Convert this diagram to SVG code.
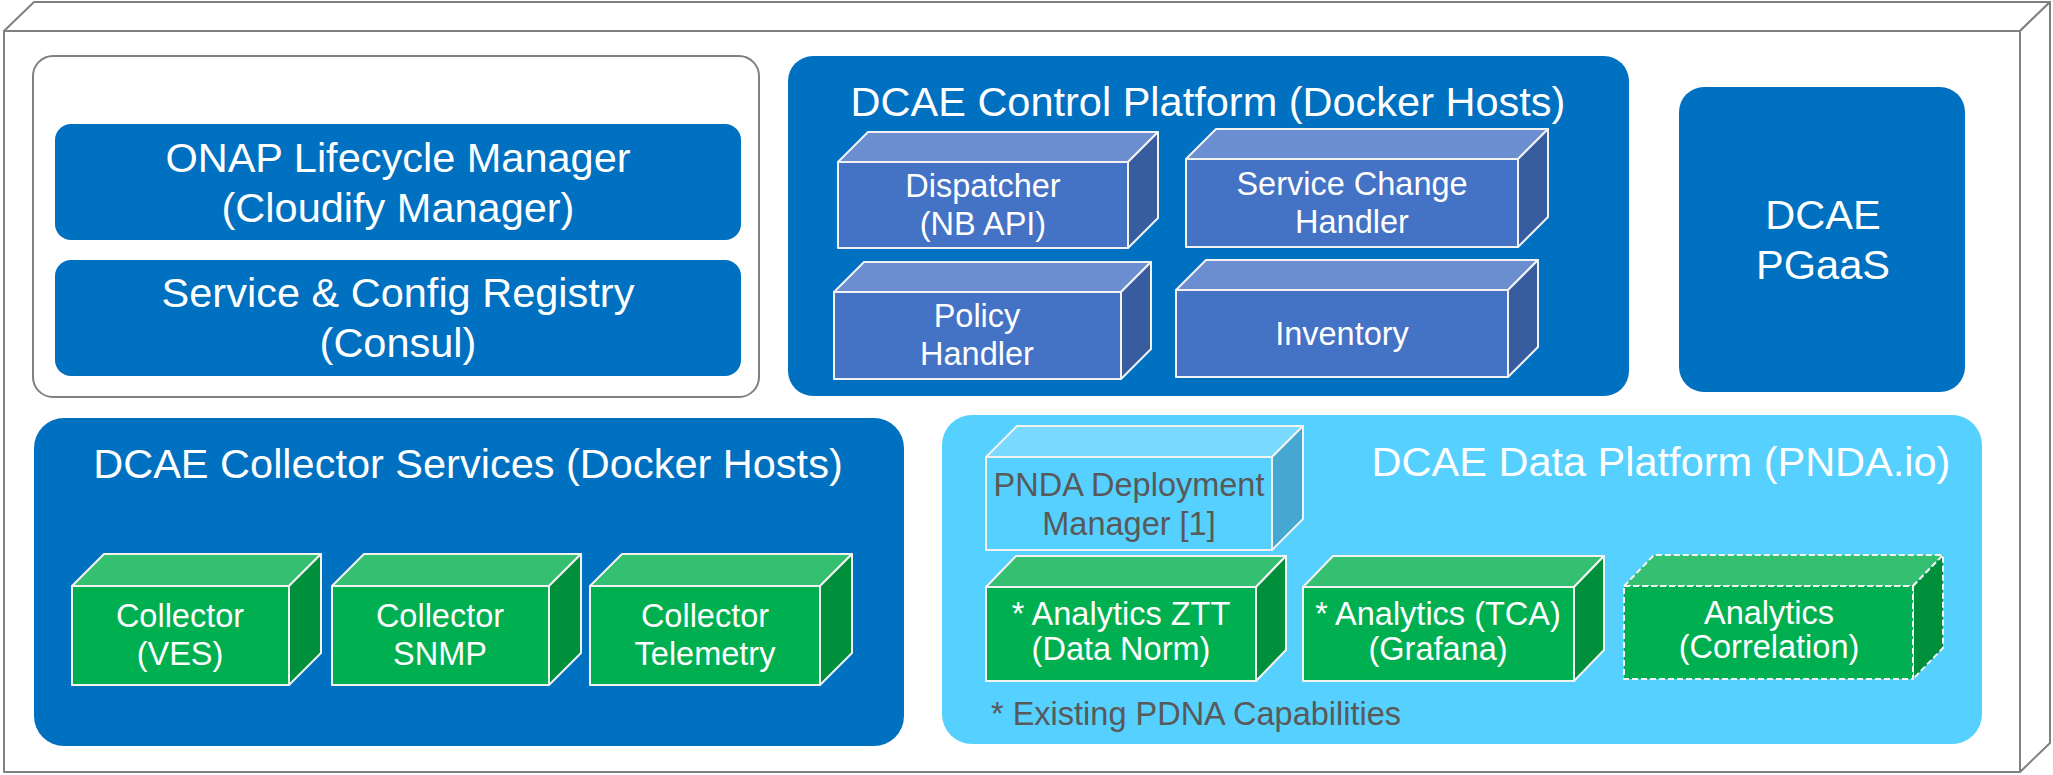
<svg xmlns="http://www.w3.org/2000/svg" width="2053" height="775" viewBox="0 0 2053 775">
<style>
.frame{fill:#fff;stroke:#808080;stroke-width:2;stroke-linejoin:round}
.box{fill:#0070c0}
.light{fill:#55d0ff}
.edge{stroke:#f2f2f2;stroke-width:2;stroke-linejoin:round}
.bf{fill:#4472c4}.bt{fill:#6a8ed0}.br{fill:#385d9f}
.gf{fill:#00b050}.gt{fill:#35bf70}.gr{fill:#008f3a}
.cf{fill:#55d0ff}.ct{fill:#7ad9ff}.cr{fill:#44a8d0}
.dash{stroke-dasharray:6 3}
text{font-family:"Liberation Sans",Arial,sans-serif;text-anchor:middle;fill:#fff}
.t40{font-size:41.5px}
.t31{font-size:32.5px}
.gray{fill:#595959}
</style>
<g id="frame">
<polygon class="frame" points="4,31 34,2 2050,2 2020,31"/>
<polygon class="frame" points="2020,31 2050,2 2050,743 2020,772"/>
<rect class="frame" x="4" y="31" width="2016" height="741"/>
</g>
<g id="lifecycle-group">
<rect x="33" y="56" width="726" height="341" rx="20" fill="#fff" stroke="#808080" stroke-width="2"/>
</g>
<g id="onap-lcm">
<rect class="box" x="55" y="124" width="686" height="116" rx="16"/>
<text class="t40" x="398" y="172">ONAP Lifecycle Manager</text>
<text class="t40" x="398" y="222">(Cloudify Manager)</text>
</g>
<g id="consul">
<rect class="box" x="55" y="260" width="686" height="116" rx="16"/>
<text class="t40" x="398" y="307">Service &amp; Config Registry</text>
<text class="t40" x="398" y="357">(Consul)</text>
</g>
<g id="control-platform">
<rect class="box" x="788" y="56" width="841" height="340" rx="25"/>
<text class="t40" x="1208" y="116">DCAE Control Platform (Docker Hosts)</text>
</g>
<g id="dispatcher">
<polygon class="bt edge" points="838,162 868,132 1158,132 1128,162"/>
<polygon class="br edge" points="1128,162 1158,132 1158,218 1128,248"/>
<rect class="bf edge" x="838" y="162" width="290" height="86"/>
<text class="t31" x="983" y="197">Dispatcher</text>
<text class="t31" x="983" y="235">(NB API)</text>
</g>
<g id="service-change-handler">
<polygon class="bt edge" points="1186,159 1216,129 1548,129 1518,159"/>
<polygon class="br edge" points="1518,159 1548,129 1548,217 1518,247"/>
<rect class="bf edge" x="1186" y="159" width="332" height="88"/>
<text class="t31" x="1352" y="195">Service Change</text>
<text class="t31" x="1352" y="233">Handler</text>
</g>
<g id="policy-handler">
<polygon class="bt edge" points="834,292 864,262 1151,262 1121,292"/>
<polygon class="br edge" points="1121,292 1151,262 1151,349 1121,379"/>
<rect class="bf edge" x="834" y="292" width="287" height="87"/>
<text class="t31" x="977" y="327">Policy</text>
<text class="t31" x="977" y="365">Handler</text>
</g>
<g id="inventory">
<polygon class="bt edge" points="1176,290 1206,260 1538,260 1508,290"/>
<polygon class="br edge" points="1508,290 1538,260 1538,347 1508,377"/>
<rect class="bf edge" x="1176" y="290" width="332" height="87"/>
<text class="t31" x="1342" y="345">Inventory</text>
</g>
<g id="pgaas">
<rect class="box" x="1679" y="87" width="286" height="305" rx="25"/>
<text class="t40" x="1823" y="229">DCAE</text>
<text class="t40" x="1823" y="279">PGaaS</text>
</g>
<g id="collector-services">
<rect class="box" x="34" y="418" width="870" height="328" rx="30"/>
<text class="t40" x="468" y="478">DCAE Collector Services (Docker Hosts)</text>
</g>
<g id="collector-ves">
<polygon class="gt edge" points="72,586 104,554 321,554 289,586"/>
<polygon class="gr edge" points="289,586 321,554 321,653 289,685"/>
<rect class="gf edge" x="72" y="586" width="217" height="99"/>
<text class="t31" x="180" y="627">Collector</text>
<text class="t31" x="180" y="665">(VES)</text>
</g>
<g id="collector-snmp">
<polygon class="gt edge" points="332,586 364,554 581,554 549,586"/>
<polygon class="gr edge" points="549,586 581,554 581,653 549,685"/>
<rect class="gf edge" x="332" y="586" width="217" height="99"/>
<text class="t31" x="440" y="627">Collector</text>
<text class="t31" x="440" y="665">SNMP</text>
</g>
<g id="collector-telemetry">
<polygon class="gt edge" points="590,586 622,554 852,554 820,586"/>
<polygon class="gr edge" points="820,586 852,554 852,653 820,685"/>
<rect class="gf edge" x="590" y="586" width="230" height="99"/>
<text class="t31" x="705" y="627">Collector</text>
<text class="t31" x="705" y="665">Telemetry</text>
</g>
<g id="data-platform">
<rect class="light" x="942" y="415" width="1040" height="329" rx="30"/>
<text class="t40" x="1661" y="476">DCAE Data Platform (PNDA.io)</text>
<text class="t31 gray" x="991" y="725" style="text-anchor:start">* Existing PDNA Capabilities</text>
</g>
<g id="pnda-dm">
<polygon class="ct edge" points="986,457 1017,426 1303,426 1272,457"/>
<polygon class="cr edge" points="1272,457 1303,426 1303,519 1272,550"/>
<rect class="cf edge" x="986" y="457" width="286" height="93"/>
<text class="t31 gray" x="1129" y="496">PNDA Deployment</text>
<text class="t31 gray" x="1129" y="535">Manager [1]</text>
</g>
<g id="analytics-ztt">
<polygon class="gt edge" points="986,587 1016,556 1286,556 1256,587"/>
<polygon class="gr edge" points="1256,587 1286,556 1286,650 1256,681"/>
<rect class="gf edge" x="986" y="587" width="270" height="94"/>
<text class="t31" x="1121" y="625">* Analytics ZTT</text>
<text class="t31" x="1121" y="660">(Data Norm)</text>
</g>
<g id="analytics-tca">
<polygon class="gt edge" points="1303,587 1333,556 1604,556 1574,587"/>
<polygon class="gr edge" points="1574,587 1604,556 1604,650 1574,681"/>
<rect class="gf edge" x="1303" y="587" width="271" height="94"/>
<text class="t31" x="1438" y="625">* Analytics (TCA)</text>
<text class="t31" x="1438" y="660">(Grafana)</text>
</g>
<g id="analytics-correlation">
<polygon class="gt edge dash" points="1624,586 1654,555 1943,555 1913,586"/>
<polygon class="gr edge dash" points="1913,586 1943,555 1943,648 1913,679"/>
<rect class="gf edge dash" x="1624" y="586" width="289" height="93"/>
<text class="t31" x="1769" y="624">Analytics</text>
<text class="t31" x="1769" y="658">(Correlation)</text>
</g>
<g id="connectors"></g>
</svg>
